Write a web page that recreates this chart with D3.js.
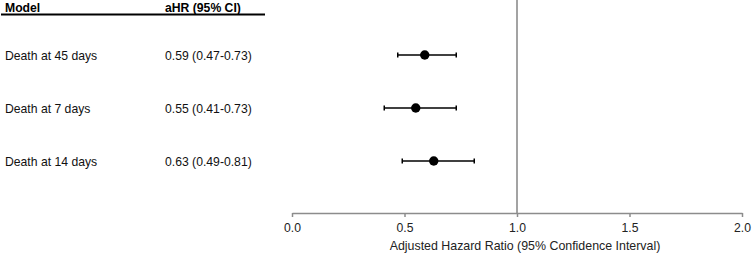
<!DOCTYPE html>
<html><head><meta charset="utf-8">
<script src="https://cdn.jsdelivr.net/npm/d3@7"></script>
<style>body{margin:0;background:#fff;} text{font-family:"Liberation Sans",Arial,sans-serif;}</style>
</head><body>
<svg id="c" width="752" height="253"></svg>
<script>
const models = ["Death at 45 days", "Death at 7 days", "Death at 14 days"];
const hr = [0.59, 0.55, 0.63];
const lower = [0.47, 0.41, 0.49];
const upper = [0.73, 0.73, 0.81];
const hrLabels = ["0.59 (0.47-0.73)", "0.55 (0.41-0.73)", "0.63 (0.49-0.81)"];
const xTicks = [0, 0.5, 1, 1.5, 2];

const fs = 12.2;
const svg = d3.select("#c");
const x = d3.scaleLinear().domain([0, 2]).range([292, 742]);
const y = d3.scalePoint().domain(models).range([55, 161]);
const axisY = 213;

// header
svg.append("text").attr("x", 5).attr("y", 11.5).attr("font-size", fs).attr("font-weight", "bold").text("Model");
svg.append("text").attr("x", 165).attr("y", 11.5).attr("font-size", fs).attr("font-weight", "bold").text("aHR (95% CI)");
svg.append("line").attr("x1", 1).attr("x2", 265).attr("y1", 14.5).attr("y2", 14.5).attr("stroke", "#000").attr("stroke-width", 2.2);

// row text
models.forEach((m, i) => {
  svg.append("text").attr("x", 5).attr("y", y(m) + 0.5).attr("dy", "0.35em").attr("font-size", fs).attr("fill", "#111").text(m);
  svg.append("text").attr("x", 165).attr("y", y(m) + 0.5).attr("dy", "0.35em").attr("font-size", fs).attr("fill", "#111").text(hrLabels[i]);
});

// reference line
svg.append("line").attr("x1", x(1)).attr("x2", x(1)).attr("y1", 0).attr("y2", axisY).attr("stroke", "#8c8c8c").attr("stroke-width", 1.6);

// axis
const ax = d3.axisBottom(x).tickValues(xTicks).tickFormat(d3.format(".1f")).tickSizeInner(4).tickSizeOuter(0).tickPadding(6);
const g = svg.append("g").attr("transform", `translate(0,${axisY})`).call(ax);
g.select(".domain").attr("stroke", "#8c8c8c").attr("stroke-width", 1.5);
g.selectAll(".tick line").attr("stroke", "#8c8c8c").attr("stroke-width", 1.5);
g.selectAll(".tick text").attr("font-size", fs).attr("fill", "#222").attr("font-family", "Liberation Sans, Arial, sans-serif");

svg.append("text").attr("x", x(1) + 8).attr("y", 250).attr("text-anchor", "middle").attr("font-size", 12.4).attr("fill", "#222").text("Adjusted Hazard Ratio (95% Confidence Interval)");

// error bars
models.forEach((m, i) => {
  const yy = y(m);
  svg.append("line").attr("x1", x(lower[i])).attr("x2", x(upper[i])).attr("y1", yy).attr("y2", yy).attr("stroke", "#000").attr("stroke-width", 1.6);
  [lower[i], upper[i]].forEach(v => {
    svg.append("line").attr("x1", x(v)).attr("x2", x(v)).attr("y1", yy - 2.5).attr("y2", yy + 2.5).attr("stroke", "#000").attr("stroke-width", 1.5);
  });
  svg.append("circle").attr("cx", x(hr[i])).attr("cy", yy).attr("r", 4.7).attr("fill", "#000");
});
</script>
</body></html>
